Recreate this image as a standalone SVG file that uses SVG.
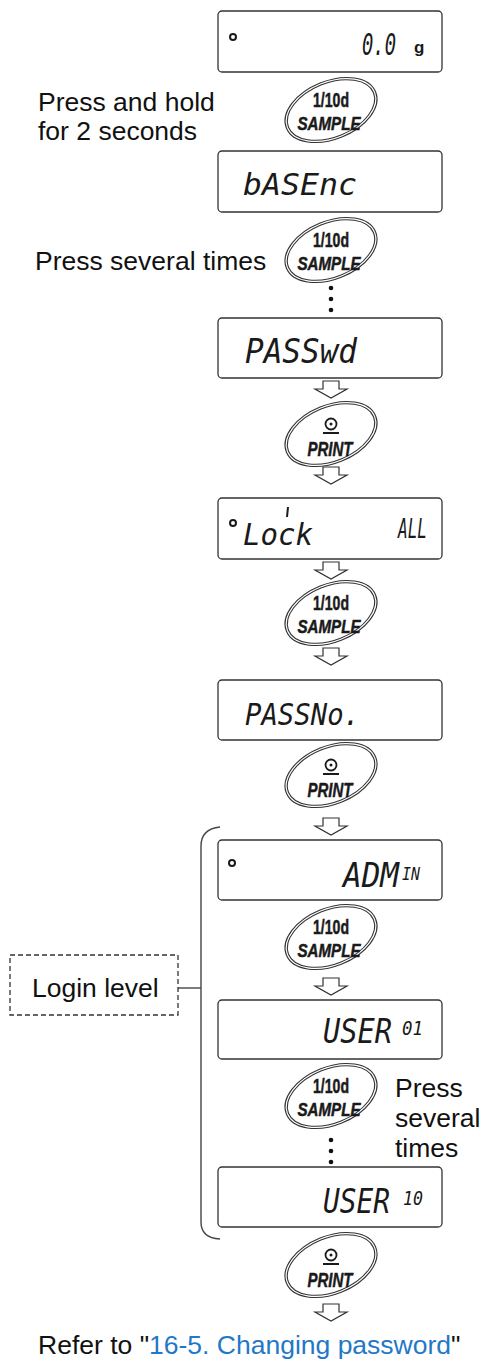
<svg xmlns="http://www.w3.org/2000/svg" width="482" height="1362" viewBox="0 0 482 1362">
<style>
.disp{fill:#fff;stroke:#333;stroke-width:1.3}
.seg{font-family:"DejaVu Sans Mono",monospace;font-style:oblique;fill:#1a1a1a}
.lbl{font-family:"Liberation Sans",Arial,sans-serif;font-size:26.5px;fill:#111}
.bo{fill:none;stroke:#333;stroke-width:3.4}
.bi{fill:none;stroke:#fff;stroke-width:1.2}
.bt{font-family:"Liberation Sans",Arial,sans-serif;font-weight:bold;fill:#1a1a1a;stroke:#1a1a1a;stroke-width:0.5;text-anchor:middle}
.arr{fill:#fff;stroke:#333;stroke-width:1.2;stroke-linejoin:miter}
.ind{fill:none;stroke:#1a1a1a;stroke-width:2}
.ln{fill:none;stroke:#444;stroke-width:1.4}
</style>
<defs>
<g id="btnShape">
<ellipse class="bo" cx="0" cy="0" rx="47" ry="28" transform="rotate(-22)"/>
<ellipse class="bi" cx="0" cy="0" rx="47" ry="28" transform="rotate(-22)"/>
</g>
<g id="sample">
<use href="#btnShape"/>
<text class="bt" x="0" y="-3" font-size="20" textLength="36" lengthAdjust="spacingAndGlyphs">1/10d</text>
<text class="bt" x="-2" y="20" font-size="19" font-style="italic" textLength="63" lengthAdjust="spacingAndGlyphs">SAMPLE</text>
</g>
<g id="print">
<use href="#btnShape"/>
<circle cx="0" cy="-10" r="5.5" fill="none" stroke="#1a1a1a" stroke-width="1.8"/>
<circle cx="0" cy="-10" r="1.5" fill="#1a1a1a"/>
<line x1="-8" y1="-1" x2="8" y2="-1" stroke="#1a1a1a" stroke-width="2"/>
<text class="bt" x="-1" y="22" font-size="21" font-style="italic" textLength="45" lengthAdjust="spacingAndGlyphs">PRINT</text>
</g>
<polygon id="arrow" class="arr" points="-8,0 8,0 8,8 16,8 0,17 -16,8 -8,8"/>
</defs>

<g id="connectors">
<use href="#arrow" x="331" y="381"/>
<use href="#arrow" x="331" y="467"/>
<use href="#arrow" x="331" y="562"/>
<use href="#arrow" x="331" y="648"/>
<use href="#arrow" x="331" y="818"/>
<use href="#arrow" x="331" y="978"/>
<use href="#arrow" x="331" y="1304"/>
<circle cx="331" cy="288" r="2.3" fill="#111"/>
<circle cx="331" cy="299" r="2.3" fill="#111"/>
<circle cx="331" cy="310" r="2.3" fill="#111"/>
<circle cx="331" cy="1140" r="2.3" fill="#111"/>
<circle cx="331" cy="1151" r="2.3" fill="#111"/>
<circle cx="331" cy="1162" r="2.3" fill="#111"/>
<path class="ln" d="M220,827 Q201,829 201,846 L201,1222 Q201,1238 220,1239"/>
<line class="ln" x1="178" y1="988" x2="201" y2="988"/>
</g>

<g id="display-zero">
<rect class="disp" x="218" y="11" width="224" height="61" rx="4"/>
<circle class="ind" cx="233" cy="37" r="3"/>
<text class="seg" x="362" y="55" font-size="30" textLength="34" lengthAdjust="spacingAndGlyphs">0.0</text>
<text x="414" y="53" font-family="Liberation Sans,Arial,sans-serif" font-weight="bold" font-size="17" fill="#1a1a1a">g</text>
</g>
<g id="label-hold">
<text class="lbl" x="38" y="111">Press and hold</text>
<text class="lbl" x="38" y="140">for 2 seconds</text>
</g>
<g id="btn-sample-1"><use href="#sample" x="331" y="110"/></g>

<g id="display-basenc">
<rect class="disp" x="218" y="151" width="224" height="61" rx="4"/>
<text class="seg" x="243" y="195" font-size="30" textLength="114" lengthAdjust="spacingAndGlyphs">bASEnc</text>
</g>
<g id="label-several-1"><text class="lbl" x="35" y="270">Press several times</text></g>
<g id="btn-sample-2"><use href="#sample" x="331" y="250"/></g>

<g id="display-passwd">
<rect class="disp" x="218" y="318" width="224" height="60" rx="4"/>
<text class="seg" x="245" y="363" font-size="33" textLength="112" lengthAdjust="spacingAndGlyphs">PASSwd</text>
</g>
<g id="btn-print-1"><use href="#print" x="331" y="434"/></g>

<g id="display-lock">
<rect class="disp" x="218" y="498" width="224" height="61" rx="4"/>
<circle class="ind" cx="233" cy="523" r="3"/>
<line x1="288" y1="507" x2="287" y2="517" stroke="#1a1a1a" stroke-width="2"/>
<text class="seg" x="243" y="545" font-size="31" textLength="70" lengthAdjust="spacingAndGlyphs">Lock</text>
<text class="seg" x="398" y="538" font-size="27" textLength="29" lengthAdjust="spacingAndGlyphs">ALL</text>
</g>
<g id="btn-sample-3"><use href="#sample" x="331" y="613"/></g>

<g id="display-passno">
<rect class="disp" x="218" y="680" width="224" height="60" rx="4"/>
<text class="seg" x="245" y="725" font-size="31" textLength="115" lengthAdjust="spacingAndGlyphs">PASSNo.</text>
</g>
<g id="btn-print-2"><use href="#print" x="331" y="775"/></g>

<g id="display-admin">
<rect class="disp" x="218" y="840" width="224" height="60" rx="4"/>
<circle class="ind" cx="232" cy="863" r="3"/>
<text class="seg" x="343" y="887" font-size="33" textLength="56" lengthAdjust="spacingAndGlyphs">ADM</text>
<text class="seg" x="402" y="880" font-size="18" textLength="18" lengthAdjust="spacingAndGlyphs">IN</text>
</g>
<g id="btn-sample-4"><use href="#sample" x="331" y="937"/></g>

<g id="login-level">
<rect x="10" y="955" width="168" height="60" fill="none" stroke="#333" stroke-width="1.3" stroke-dasharray="5,3"/>
<text class="lbl" x="32" y="997">Login level</text>
</g>

<g id="display-user01">
<rect class="disp" x="218" y="1000" width="224" height="59" rx="4"/>
<text class="seg" x="323" y="1043" font-size="33" textLength="69" lengthAdjust="spacingAndGlyphs">USER</text>
<text class="seg" x="402" y="1035" font-size="19" textLength="21" lengthAdjust="spacingAndGlyphs">01</text>
</g>
<g id="btn-sample-5"><use href="#sample" x="331" y="1096"/></g>
<g id="label-several-2">
<text class="lbl" x="395" y="1097">Press</text>
<text class="lbl" x="395" y="1127">several</text>
<text class="lbl" x="395" y="1157">times</text>
</g>

<g id="display-user10">
<rect class="disp" x="218" y="1167" width="224" height="60" rx="4"/>
<text class="seg" x="323" y="1213" font-size="33" textLength="67" lengthAdjust="spacingAndGlyphs">USER</text>
<text class="seg" x="403" y="1205" font-size="19" textLength="20" lengthAdjust="spacingAndGlyphs">10</text>
</g>
<g id="btn-print-3"><use href="#print" x="331" y="1265"/></g>

<g id="reference">
<text class="lbl" x="38" y="1354">Refer to "<tspan fill="#1f78c8">16-5. Changing password</tspan>"</text>
</g>
</svg>
